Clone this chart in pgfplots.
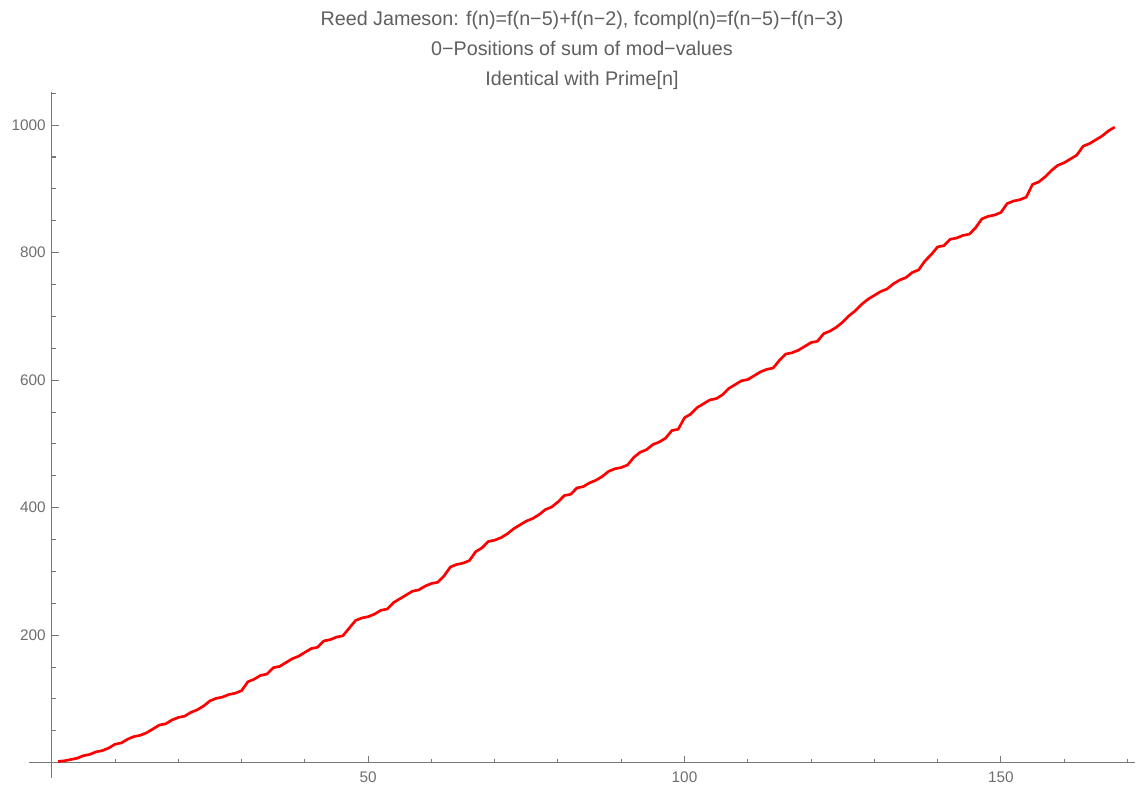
\documentclass[border=0pt]{standalone}
\usepackage{pgfplots}
\pgfplotsset{compat=1.18}
\usepackage{fontspec}
\setmainfont{Liberation Sans}
\definecolor{titlegray}{RGB}{95,95,95}
\definecolor{labgray}{RGB}{110,110,110}
\definecolor{axgray}{RGB}{120,120,120}
\begin{document}
\begin{tikzpicture}[x=0.75pt,y=0.75pt]
\useasboundingbox (-29,-11) rectangle (1108,778);
\begin{axis}[
  at={(0,0)}, anchor=south west,
  scale only axis, width=829.5pt, height=514.5pt,
  xmin=-3.6, xmax=171.2, ymin=-24, ymax=1052,
  axis lines=middle,
  axis line style={draw=axgray, line width=0.9pt, -},
  xtick={50,100,150}, minor xtick={10,20,30,40,60,70,80,90,110,120,130,140,160,170},
  ytick={200,400,600,800,1000}, minor ytick={50,100,150,250,300,350,450,500,550,650,700,750,850,900,950,1050},
  tick align=inside,
  major tick length=5.25pt, minor tick length=3pt,
  every tick/.style={draw=axgray, line width=0.8pt},
  tick label style={font=\fontsize{11.5}{14}\selectfont, text=labgray},
  /pgf/number format/assume math mode=true,
  /pgf/number format/set thousands separator={},
  xticklabel style={yshift=-3pt},
  yticklabel style={xshift=-1pt},
  title={Reed Jameson: f(n)=f(n−5)+f(n−2), fcompl(n)=f(n−5)−f(n−3)\\0−Positions of sum of mod−values\\Identical with Prime[n]},
  title style={font=\fontsize{14.8}{22.5}\selectfont, text=titlegray, align=center, at={(0.5,1)}, anchor=south, yshift=-7.75pt},
  clip=false,
]
\addplot[red, line width=2pt, line join=round] table[x=n,y=p] {
n p
1 2
2 3
3 5
4 7
5 11
6 13
7 17
8 19
9 23
10 29
11 31
12 37
13 41
14 43
15 47
16 53
17 59
18 61
19 67
20 71
21 73
22 79
23 83
24 89
25 97
26 101
27 103
28 107
29 109
30 113
31 127
32 131
33 137
34 139
35 149
36 151
37 157
38 163
39 167
40 173
41 179
42 181
43 191
44 193
45 197
46 199
47 211
48 223
49 227
50 229
51 233
52 239
53 241
54 251
55 257
56 263
57 269
58 271
59 277
60 281
61 283
62 293
63 307
64 311
65 313
66 317
67 331
68 337
69 347
70 349
71 353
72 359
73 367
74 373
75 379
76 383
77 389
78 397
79 401
80 409
81 419
82 421
83 431
84 433
85 439
86 443
87 449
88 457
89 461
90 463
91 467
92 479
93 487
94 491
95 499
96 503
97 509
98 521
99 523
100 541
101 547
102 557
103 563
104 569
105 571
106 577
107 587
108 593
109 599
110 601
111 607
112 613
113 617
114 619
115 631
116 641
117 643
118 647
119 653
120 659
121 661
122 673
123 677
124 683
125 691
126 701
127 709
128 719
129 727
130 733
131 739
132 743
133 751
134 757
135 761
136 769
137 773
138 787
139 797
140 809
141 811
142 821
143 823
144 827
145 829
146 839
147 853
148 857
149 859
150 863
151 877
152 881
153 883
154 887
155 907
156 911
157 919
158 929
159 937
160 941
161 947
162 953
163 967
164 971
165 977
166 983
167 991
168 997
};
\end{axis}
\end{tikzpicture}
\end{document}
